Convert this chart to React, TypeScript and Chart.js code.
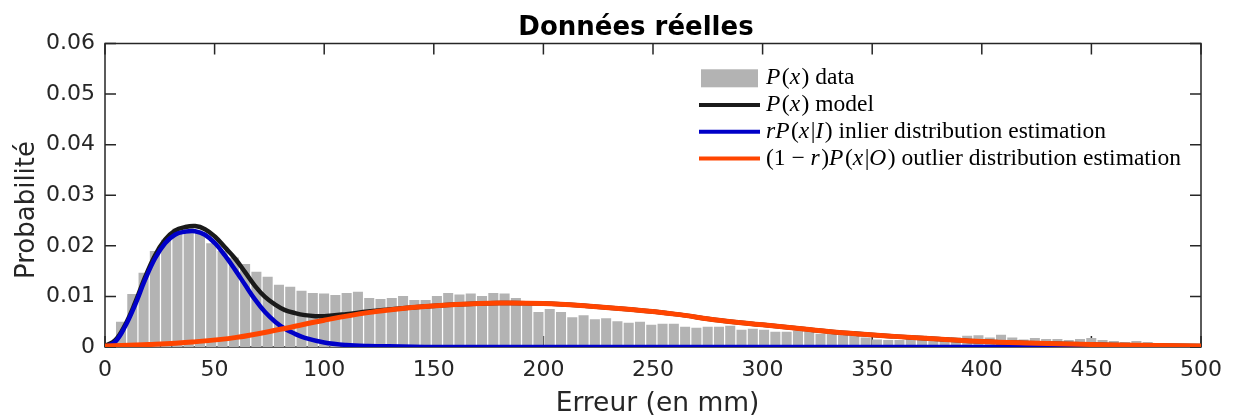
import React, { useEffect, useRef } from 'react';
import { Chart, registerables } from 'chart.js';

Chart.register(...registerables);

// ---------- data ----------
const BIN_START = 7.3; // centre of first drawn bin (mm)
const BIN_WIDTH = 5.147; // bin width (mm)
const histValues = [
  0.0050, 0.0105, 0.0147, 0.0190, 0.0212, 0.0234, 0.0235, 0.0226, 0.0205, 0.0190,
  0.0177, 0.0164, 0.0149, 0.0139, 0.0123, 0.0119, 0.0111, 0.0107, 0.0106, 0.0103,
  0.0107, 0.0109, 0.0097, 0.0095, 0.0097, 0.0101, 0.0093, 0.0093, 0.0101, 0.0107,
  0.0104, 0.0106, 0.0101, 0.0107, 0.0106, 0.0097, 0.0082, 0.0069, 0.0075, 0.0069,
  0.0059, 0.0063, 0.0055, 0.0057, 0.0051, 0.0048, 0.0050, 0.0044, 0.0046, 0.0046,
  0.0040, 0.0038, 0.0040, 0.0040, 0.0042, 0.0034, 0.0036, 0.0034, 0.0030, 0.0030,
  0.0032, 0.0030, 0.0026, 0.0026, 0.0024, 0.0022, 0.0019, 0.0015, 0.0014, 0.0014,
  0.0020, 0.0022, 0.0020, 0.0019, 0.0019, 0.0022, 0.0023, 0.0019, 0.0024, 0.0019,
  0.0015, 0.0018, 0.0016, 0.0016, 0.0014, 0.0016, 0.0018, 0.0014, 0.0012, 0.0010,
  0.0012, 0.0010, 0.0008, 0.0005, 0.0004, 0.0003,
];

const inlierX = [0, 4.6, 9.1, 13.7, 18.2, 22.8, 27.4, 31.9, 36.5, 41.1, 45.6, 50.2, 54.7, 59.3, 63.9, 68.4, 73.0, 77.6, 82.1, 86.7, 91.2, 100, 110, 120, 135, 150, 200, 300, 400, 500];
const inlierY = [0, 0.0010, 0.0040, 0.0083, 0.0132, 0.0175, 0.0205, 0.0222, 0.0228, 0.0229, 0.0222, 0.0205, 0.0181, 0.0153, 0.0123, 0.0094, 0.0069, 0.0050, 0.0036, 0.0026, 0.0018, 0.0009, 0.0004, 0.0002, 0.0001, 0, 0, 0, 0, 0];

const outlierX = [0, 20, 40, 60, 80, 100, 120, 140, 160, 180, 200, 220, 240, 260, 280, 300, 320, 340, 360, 380, 400, 420, 440, 460, 480, 500];
const outlierY = [0.0002, 0.0005, 0.0010, 0.0019, 0.0035, 0.0053, 0.0068, 0.0078, 0.0084, 0.0087, 0.0086, 0.0081, 0.0074, 0.0065, 0.0053, 0.0044, 0.0035, 0.0027, 0.0021, 0.0016, 0.0011, 0.0008, 0.0006, 0.0004, 0.0003, 0.0002];

const modelX = [0, 4.6, 9.1, 13.7, 18.2, 22.8, 27.4, 31.9, 36.5, 41.1, 45.6, 50.2, 54.7, 59.3, 63.9, 68.4, 73.0, 77.6, 82.1, 86.7, 91.2, 96, 100, 110, 120, 140, 160, 180, 200, 220, 240, 260, 280, 300, 320, 340, 360, 380, 400, 420, 440, 460, 480, 500];
const modelY = [0.0002, 0.0013, 0.0043, 0.0087, 0.0137, 0.0181, 0.0212, 0.0230, 0.0237, 0.0239, 0.0233, 0.0218, 0.0197, 0.0175, 0.0148, 0.0121, 0.0099, 0.0084, 0.0073, 0.0067, 0.0063, 0.0061, 0.0061, 0.0065, 0.0070, 0.0078, 0.0084, 0.0087, 0.0086, 0.0081, 0.0074, 0.0065, 0.0053, 0.0044, 0.0035, 0.0027, 0.0021, 0.0016, 0.0011, 0.0008, 0.0006, 0.0004, 0.0003, 0.0002];

const xTicks = [0, 50, 100, 150, 200, 250, 300, 350, 400, 450, 500];
const yTicks = [0, 0.01, 0.02, 0.03, 0.04, 0.05, 0.06];

const TITLE = 'Données réelles';
const X_LABEL = 'Erreur (en mm)';
const Y_LABEL = 'Probabilité';

// legend label parts: [text, italic]
const legendLabels: [string, boolean][][] = [
  [['P', true], ['(', false], ['x', true], [') data', false]],
  [['P', true], ['(', false], ['x', true], [') model', false]],
  [['rP', true], ['(', false], ['x', true], ['|', false], ['I', true], [') inlier distribution estimation', false]],
  [['(1 \u2212 ', false], ['r', true], [')', false], ['P', true], ['(', false], ['x', true], ['|', false], ['O', true], [') outlier distribution estimation', false]],
];

// ---------- styles ----------
const BAR_COLOR = '#b3b3b3';
const MODEL_COLOR = '#1a1a1a';
const INLIER_COLOR = '#0000c8';
const OUTLIER_COLOR = '#ff4500';
const AXIS_COLOR = '#262626';
const SANS = "'DejaVu Sans', sans-serif";
const SERIF = "'Liberation Serif', serif";

const zip = (xs: number[], ys: number[]) => xs.map((x, i) => ({ x, y: ys[i] }));

const framePlugin = {
  id: 'frame',
  beforeDatasetsDraw(chart: any) {
    const { ctx, chartArea, scales } = chart;
    const { left, right, top, bottom } = chartArea;
    const tl = 11;
    ctx.save();
    ctx.strokeStyle = AXIS_COLOR;
    ctx.lineWidth = 1.5;
    ctx.strokeRect(left, top, right - left, bottom - top);
    ctx.beginPath();
    xTicks.forEach((v) => {
      const px = scales.x.getPixelForValue(v);
      ctx.moveTo(px, bottom);
      ctx.lineTo(px, bottom - tl);
      ctx.moveTo(px, top);
      ctx.lineTo(px, top + tl);
    });
    yTicks.forEach((v) => {
      const py = scales.y.getPixelForValue(v);
      ctx.moveTo(left, py);
      ctx.lineTo(left + tl, py);
      ctx.moveTo(right, py);
      ctx.lineTo(right - tl, py);
    });
    ctx.stroke();
    ctx.restore();
  },
};

const textPlugin = {
  id: 'texts',
  afterDraw(chart: any) {
    const { ctx } = chart;
    ctx.save();
    ctx.fillStyle = '#000';
    // title
    ctx.font = `bold 26px ${SANS}`;
    ctx.textAlign = 'center';
    ctx.textBaseline = 'alphabetic';
    ctx.fillText(TITLE, 636, 35);
    // x label
    ctx.fillStyle = '#262626';
    ctx.font = `26.5px ${SANS}`;
    ctx.fillText(X_LABEL, 657.5, 411);
    // y label
    ctx.font = `26px ${SANS}`;
    ctx.save();
    ctx.translate(34, 210);
    ctx.rotate(-Math.PI / 2);
    ctx.fillText(Y_LABEL, 0, 0);
    ctx.restore();

    // legend
    const rowY0 = 78.3;
    const rowStep = 26.7;
    const colors = [BAR_COLOR, MODEL_COLOR, INLIER_COLOR, OUTLIER_COLOR];
    legendLabels.forEach((parts, k) => {
      const cy = rowY0 + rowStep * k;
      if (k === 0) {
        ctx.fillStyle = BAR_COLOR;
        ctx.fillRect(701, cy - 9, 57, 18);
      } else {
        ctx.strokeStyle = colors[k];
        ctx.lineWidth = 4;
        ctx.beginPath();
        ctx.moveTo(699, cy);
        ctx.lineTo(760, cy);
        ctx.stroke();
      }
      let x = 766;
      ctx.fillStyle = '#000';
      ctx.textAlign = 'left';
      ctx.textBaseline = 'middle';
      parts.forEach(([t, it]) => {
        ctx.font = `${it ? 'italic ' : ''}23.5px ${SERIF}`;
        ctx.fillText(t, x, cy);
        x += ctx.measureText(t).width + (it ? 1.5 : 0);
      });
    });
    ctx.restore();
  },
};

const lineStyle = {
  type: 'line' as const,
  pointRadius: 0,
  tension: 0.4,
  cubicInterpolationMode: 'default' as const,
};

export default function App() {
  const ref = useRef<HTMLCanvasElement>(null);
  useEffect(() => {
    const canvas = ref.current!;
    const chart = new Chart(canvas, {
      type: 'line',
      data: {
        datasets: [
          {
            type: 'bar',
            label: 'P(x) data',
            data: histValues.map((y, i) => ({ x: BIN_START + BIN_WIDTH * i, y })),
            backgroundColor: BAR_COLOR,
            borderWidth: 0,
            barPercentage: 1,
            categoryPercentage: 0.89,
            order: 3,
          } as any,
          {
            ...lineStyle,
            label: 'P(x) model',
            data: zip(modelX, modelY),
            borderColor: MODEL_COLOR,
            borderWidth: 4.5,
            order: 2,
          },
          {
            ...lineStyle,
            label: 'rP(x|I) inlier distribution estimation',
            data: zip(inlierX, inlierY),
            borderColor: INLIER_COLOR,
            borderWidth: 4.5,
            order: 1,
          },
          {
            ...lineStyle,
            label: '(1-r)P(x|O) outlier distribution estimation',
            data: zip(outlierX, outlierY),
            borderColor: OUTLIER_COLOR,
            borderWidth: 5,
            order: 0,
          },
        ],
      },
      options: {
        responsive: false,
        animation: false,
        devicePixelRatio: 1,
        layout: { padding: { top: 43.5, right: 32, left: 0, bottom: 0 } },
        plugins: { legend: { display: false }, tooltip: { enabled: false }, title: { display: false } },
        scales: {
          x: {
            type: 'linear',
            min: 0,
            max: 500,
            offset: false,
            grid: { display: false, drawTicks: false },
            border: { display: false },
            afterBuildTicks: (s: any) => { s.ticks = xTicks.map((v) => ({ value: v })); },
            afterFit: (s: any) => { s.height = 69; },
            ticks: {
              autoSkip: false,
              maxRotation: 0,
              padding: 10,
              color: AXIS_COLOR,
              font: { family: SANS, size: 22 },
              callback: (v: any) => String(v),
            },
          },
          y: {
            type: 'linear',
            min: 0,
            max: 0.06,
            grid: { display: false, drawTicks: false },
            border: { display: false },
            afterBuildTicks: (s: any) => { s.ticks = yTicks.map((v) => ({ value: v })); },
            afterFit: (s: any) => { s.width = 105; },
            ticks: {
              padding: 10,
              color: AXIS_COLOR,
              font: { family: SANS, size: 22 },
              callback: (v: any) => (v === 0 ? '0' : Number(v).toFixed(2)),
            },
          },
        },
      },
      plugins: [framePlugin, textPlugin],
    });
    return () => chart.destroy();
  }, []);
  return (
    <div style={{ position: 'fixed', left: 0, top: 0, width: 1233, height: 416, background: '#fff' }}>
      <canvas ref={ref} width={1233} height={416} style={{ display: 'block' }} />
    </div>
  );
}
